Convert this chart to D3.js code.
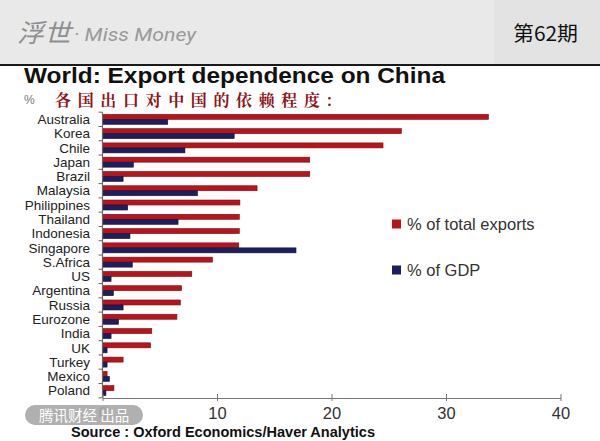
<!DOCTYPE html>
<html><head><meta charset="utf-8">
<script src="https://cdn.jsdelivr.net/npm/d3@7"></script>
<style>
html,body{margin:0;padding:0;background:#fff;}
svg{display:block;}
</style></head>
<body>
<script>
const categories = ["Australia","Korea","Chile","Japan","Brazil","Malaysia","Philippines","Thailand","Indonesia","Singapore","S.Africa","US","Argentina","Russia","Eurozone","India","UK","Turkey","Mexico","Poland"];
const exportsShare = [33.7,26.1,24.5,18.1,18.1,13.5,12.0,11.95,11.95,11.9,9.6,7.8,6.9,6.8,6.5,4.3,4.2,1.8,0.4,1.0];
const gdpShare = [5.7,11.5,7.2,2.7,1.8,8.3,2.2,6.6,2.4,16.9,2.6,0.75,0.95,1.8,1.4,0.75,0.4,0.4,0.6,0.3];
const xTicks = [0,10,20,30,40];
const seriesNames = ["% of total exports","% of GDP"];
const seriesColors = ["#bb131b","#1c1f5e"];

const W = 600, H = 441;
const svg = d3.select("body").append("svg").attr("width", W).attr("height", H);
const sans = "'Liberation Sans', Arial, sans-serif";

// header
svg.append("rect").attr("x",0).attr("y",0).attr("width",W).attr("height",64).attr("fill","#e9e9e9");
svg.append("rect").attr("x",494).attr("y",0).attr("width",106).attr("height",64).attr("fill","#e3e3e3");
svg.append("rect").attr("x",0).attr("y",64).attr("width",W).attr("height",2).attr("fill","#1a1a1a");
svg.append("text").attr("x",17).attr("y",42).attr("fill","#8f8f8f").attr("font-style","italic")
  .attr("font-family","'Noto Sans CJK SC'").attr("font-size",25).attr("textLength",54).attr("lengthAdjust","spacingAndGlyphs").text("浮世");
svg.append("text").attr("x",74).attr("y",41).attr("fill","#999").attr("font-style","italic")
  .attr("font-family","Roboto, 'Liberation Sans', sans-serif").attr("font-size",19).attr("textLength",122).attr("lengthAdjust","spacingAndGlyphs").text("· Miss Money");
svg.append("text").attr("x",513).attr("y",41).attr("font-family","'Noto Sans CJK SC'").attr("font-size",20).attr("fill","#111")
  .attr("textLength",65).attr("lengthAdjust","spacingAndGlyphs").text("第62期");

// title
svg.append("text").attr("x",24).attr("y",83).attr("font-family",sans).attr("font-weight","bold").attr("font-size",21.5).attr("fill","#111")
  .attr("textLength",421).attr("lengthAdjust","spacingAndGlyphs").text("World: Export dependence on China");
svg.append("text").attr("x",24).attr("y",104).attr("font-family",sans).attr("font-size",12).attr("fill","#777").text("%");
svg.append("text").attr("x",55).attr("y",106).attr("font-family","'Noto Serif CJK SC','Noto Sans CJK SC', serif").attr("font-weight","bold").attr("font-size",16).attr("fill","#8e1418")
  .attr("textLength",277).attr("lengthAdjust","spacing").text("各国出口对中国的依赖程度:");

// scales
const x = d3.scaleLinear().domain([0,40]).range([102.5,560.5]);
const y = d3.scaleBand().domain(categories).range([112.2,397.8]).paddingInner(0.3).paddingOuter(0.15);
const bh = y.bandwidth()/2;

const g = svg.append("g");
categories.forEach((c,i)=>{
  g.append("rect").attr("x",x(0)).attr("y",y(c)).attr("width",x(exportsShare[i])-x(0)).attr("height",bh)
    .attr("fill",seriesColors[0]).attr("stroke","#7a0c10").attr("stroke-width",0.6);
  g.append("rect").attr("x",x(0)).attr("y",y(c)+bh).attr("width",x(gdpShare[i])-x(0)).attr("height",bh)
    .attr("fill",seriesColors[1]).attr("stroke","#10123a").attr("stroke-width",0.6);
});

// y axis
const yBand = d3.scaleBand().domain(categories).range([112.2,397.8]);
const ya = svg.append("g");
ya.append("line").attr("x1",x(0)).attr("x2",x(0)).attr("y1",112.2).attr("y2",397.8).attr("stroke","#666").attr("stroke-width",1.2);
for(let i=0;i<=categories.length;i++){
  const yy = 112.2 + i*yBand.step();
  ya.append("line").attr("x1",x(0)-4).attr("x2",x(0)).attr("y1",yy).attr("y2",yy).attr("stroke","#666");
}
categories.forEach(c=>{
  ya.append("text").attr("x",90).attr("y",yBand(c)+yBand.bandwidth()/2).attr("dy","0.35em")
    .attr("text-anchor","end").attr("font-family",sans).attr("font-size",13.5).attr("fill","#222").text(c);
});

// x axis
const xa = svg.append("g").attr("transform","translate(0,398)")
  .call(d3.axisBottom(x).tickValues(xTicks).tickSize(4).tickSizeOuter(0).tickFormat(d3.format("d")));
xa.select(".domain").attr("stroke","#777").attr("stroke-width",1.2);
xa.selectAll(".tick line").attr("stroke","#777").attr("y1",-4).attr("y2",3);
xa.selectAll(".tick text").attr("font-family",sans).attr("font-size",16.5).attr("fill","#333").attr("dy","0.85em");

// legend
seriesNames.forEach((n,i)=>{
  const ly = 224 + i*46;
  svg.append("rect").attr("x",392).attr("y",ly-4.5).attr("width",9).attr("height",9).attr("fill",seriesColors[i]);
  svg.append("text").attr("x",407).attr("y",ly).attr("dy","0.35em").attr("font-family",sans).attr("font-size",16.5).attr("fill","#333").text(n);
});

// source
svg.append("text").attr("x",71).attr("y",437).attr("font-family",sans).attr("font-weight","bold").attr("font-size",14).attr("fill","#111")
  .attr("textLength",304).attr("lengthAdjust","spacingAndGlyphs").text("Source : Oxford Economics/Haver Analytics");

// watermark
svg.append("rect").attr("x",25).attr("y",405).attr("width",118).attr("height",20).attr("rx",10).attr("fill","#a9a9a9").attr("opacity",0.92);
svg.append("text").attr("x",39).attr("y",420.5).attr("font-family","'Noto Sans CJK SC'").attr("font-size",14.5).attr("fill","#fff").text("腾讯财经 出品");
</script>
</body></html>
